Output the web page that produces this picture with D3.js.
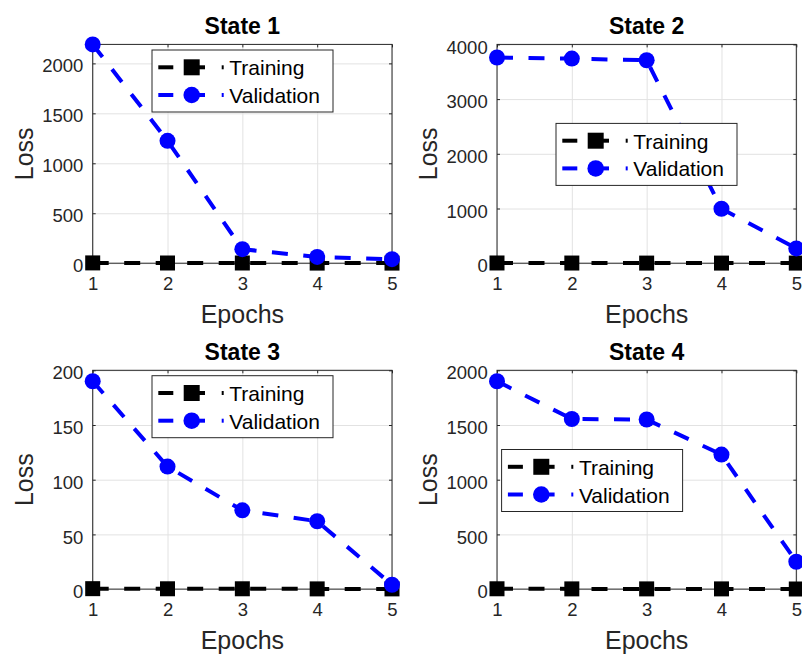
<!DOCTYPE html>
<html><head><meta charset="utf-8">
<script src="https://cdn.jsdelivr.net/npm/d3@7"></script>
<style>body{margin:0;background:#fff}svg{display:block;font-family:"Liberation Sans",Arial,Helvetica,sans-serif}</style>
</head><body>
<svg id="chart" width="802" height="655"></svg>
<script>
// ---- data ----
const epochs = [1, 2, 3, 4, 5];
const xTickLabels = ["1", "2", "3", "4", "5"];
const stateTitles = ["State 1", "State 2", "State 3", "State 4"];
const seriesNames = ["Training", "Validation"];
const trainingLoss1 = [3, 2, 2, 1, 1];
const trainingLoss2 = [4, 3, 2, 2, 2];
const trainingLoss3 = [0.4, 0.3, 0.3, 0.2, 0.2];
const trainingLoss4 = [3, 2, 2, 2, 1];
const validationLoss1 = [2190, 1225, 140, 63, 40];
const validationLoss2 = [3760, 3740, 3710, 995, 270];
const validationLoss3 = [190, 112, 72, 62, 4];
const validationLoss4 = [1900, 1555, 1550, 1230, 250];
const yMaxes = [2190, 4000, 200, 2000];
const yTicks1 = [0, 500, 1000, 1500, 2000];
const yTicks2 = [0, 1000, 2000, 3000, 4000];
const yTicks3 = [0, 50, 100, 150, 200];
const yTicks4 = [0, 500, 1000, 1500, 2000];
const xLabel = "Epochs", yLabel = "Loss";

const training = [trainingLoss1, trainingLoss2, trainingLoss3, trainingLoss4];
const validation = [validationLoss1, validationLoss2, validationLoss3, validationLoss4];
const yTicks = [yTicks1, yTicks2, yTicks3, yTicks4];

// ---- layout ----
const W = 299.3, H = 218.8;
const panels = [
  {x: 92.7, y: 44.4, lx: 59.3, ly: 5.6},
  {x: 497,  y: 44.4, lx: 59,   ly: 79},
  {x: 92.7, y: 370.3, lx: 59.3, ly: 5.4},
  {x: 497,  y: 370.3, lx: 4.6,  ly: 79.2}
];
const FONT = '"Liberation Sans",Arial,Helvetica,sans-serif';
const axisCol = "#262626", gridCol = "#e2e2e2";
const colors = ["#000000", "#0000ff"];
const lw = 4, dash = "16,15.5";

const svg = d3.select("#chart");

panels.forEach((p, k) => {
  const g = svg.append("g").attr("transform", `translate(${p.x},${p.y})`);
  const x = d3.scaleLinear().domain([1, 5]).range([0, W]);
  const y = d3.scaleLinear().domain([0, yMaxes[k]]).range([H, 0]);

  // grid
  g.append("g").attr("transform", `translate(0,${H})`)
    .call(d3.axisBottom(x).tickValues(epochs).tickSize(-H).tickFormat(""))
    .call(a => { a.select(".domain").remove(); a.selectAll("line").attr("stroke", gridCol); });
  g.append("g")
    .call(d3.axisLeft(y).tickValues(yTicks[k]).tickSize(-W).tickFormat(""))
    .call(a => { a.select(".domain").remove(); a.selectAll("line").attr("stroke", gridCol); });

  // box
  g.append("rect").attr("width", W).attr("height", H).attr("fill", "none")
    .attr("stroke", axisCol).attr("stroke-width", 1);

  // axes with inward ticks
  const styleAx = a => {
    a.attr("font-family", FONT).attr("font-size", 18.5);
    a.select(".domain").remove(); a.selectAll("line").attr("stroke", axisCol);
  };
  g.append("g").attr("transform", `translate(0,${H})`)
    .call(d3.axisBottom(x).tickValues(epochs).tickFormat((d, i) => xTickLabels[i]).tickSize(-3))
    .call(styleAx)
    .call(a => a.selectAll("text").attr("y", 26.7).attr("dy", 0).attr("fill", axisCol));
  g.append("g")
    .call(d3.axisLeft(y).tickValues(yTicks[k]).tickFormat(d3.format("d")).tickSize(-3).tickPadding(9.3))
    .call(styleAx)
    .call(a => a.selectAll("text").attr("dy", 8.6).attr("fill", axisCol));
  g.append("g")
    .call(d3.axisTop(x).tickValues(epochs).tickSize(-3).tickFormat(""))
    .call(styleAx);
  g.append("g").attr("transform", `translate(${W},0)`)
    .call(d3.axisRight(y).tickValues(yTicks[k]).tickSize(-3).tickFormat(""))
    .call(styleAx);

  // labels
  g.append("text").attr("x", W / 2).attr("y", -10).attr("text-anchor", "middle")
    .attr("font-size", 23).attr("font-weight", "bold").attr("fill", "#000").text(stateTitles[k]);
  g.append("text").attr("x", W / 2).attr("y", H + 60).attr("text-anchor", "middle")
    .attr("font-size", 25).attr("fill", axisCol).text(xLabel);
  g.append("text").attr("transform", `translate(-60,${H / 2}) rotate(-90)`)
    .attr("text-anchor", "middle").attr("font-size", 25).attr("fill", axisCol).text(yLabel);

  // series
  const series = [training[k], validation[k]];
  const line = d3.line().x((d, i) => x(epochs[i])).y(d => y(d));
  series.forEach((vals, s) => {
    g.append("path").datum(vals).attr("d", line).attr("fill", "none")
      .attr("stroke", colors[s]).attr("stroke-width", lw).attr("stroke-dasharray", dash);
  });
  series.forEach((vals, s) => {
    const sym = d3.symbol().type(s === 0 ? d3.symbolSquare : d3.symbolCircle).size(s === 0 ? 225 : 201);
    g.selectAll(null).data(vals).join("path")
      .attr("transform", (d, i) => `translate(${x(epochs[i])},${y(d)})`)
      .attr("d", sym).attr("fill", colors[s]);
  });

  // legend
  const lg = g.append("g").attr("transform", `translate(${p.lx},${p.ly})`);
  lg.append("rect").attr("width", 181).attr("height", 62).attr("fill", "#fff")
    .attr("stroke", axisCol).attr("stroke-width", 1);
  seriesNames.forEach((name, s) => {
    const cy = 17.3 + s * 27.7;
    const row = lg.append("g").attr("transform", `translate(0,${cy})`);
    [[6.3, 21.3], [39.7, 53], [69.7, 71.7]].forEach(seg => {
      row.append("line").attr("x1", seg[0]).attr("x2", seg[1]).attr("y1", 0).attr("y2", 0)
        .attr("stroke", colors[s]).attr("stroke-width", lw);
    });
    const sym = d3.symbol().type(s === 0 ? d3.symbolSquare : d3.symbolCircle).size(s === 0 ? 256 : 215);
    row.append("path").attr("transform", "translate(39.7,0)").attr("d", sym).attr("fill", colors[s]);
    row.append("text").attr("x", 77.3).attr("y", 8).attr("font-size", 21).attr("fill", "#000").text(name);
  });
});
</script>
</body></html>
